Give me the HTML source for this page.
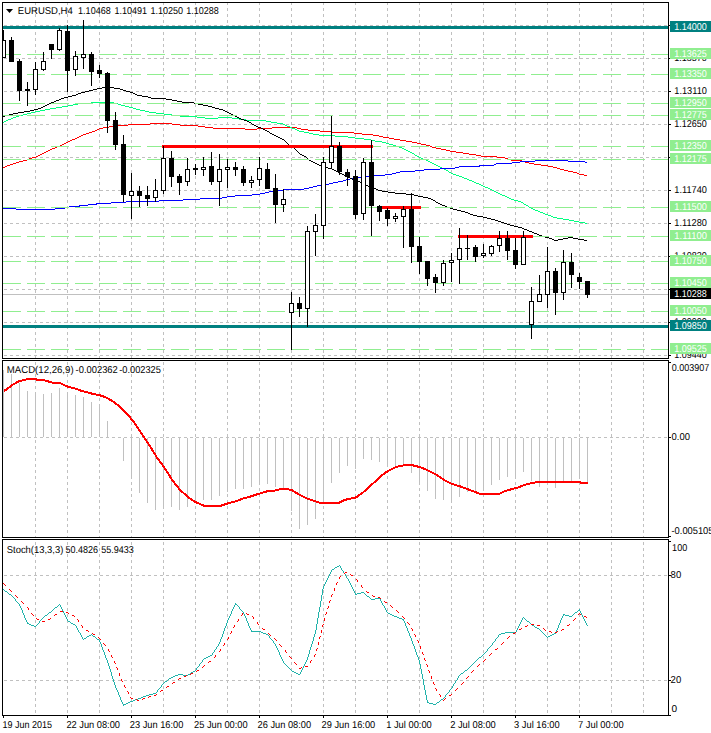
<!DOCTYPE html>
<html><head><meta charset="utf-8"><title>EURUSD,H4</title>
<style>
html,body{margin:0;padding:0;background:#fff;}
body{width:711px;height:733px;overflow:hidden;}
svg{display:block;}
text{font-family:"Liberation Sans", "DejaVu Sans", sans-serif;text-rendering:geometricPrecision;}
</style></head><body>
<svg width="711" height="733" viewBox="0 0 711 733" shape-rendering="crispEdges">
<rect x="0" y="0" width="711" height="733" fill="#ffffff"/>
<g id="grid">
<line x1="4" y1="25.5" x2="668" y2="25.5" stroke="#c0c0c0" stroke-dasharray="3 3"/>
<line x1="4" y1="58.5" x2="668" y2="58.5" stroke="#c0c0c0" stroke-dasharray="3 3"/>
<line x1="4" y1="91.5" x2="668" y2="91.5" stroke="#c0c0c0" stroke-dasharray="3 3"/>
<line x1="4" y1="124.5" x2="668" y2="124.5" stroke="#c0c0c0" stroke-dasharray="3 3"/>
<line x1="4" y1="157.5" x2="668" y2="157.5" stroke="#c0c0c0" stroke-dasharray="3 3"/>
<line x1="4" y1="190.5" x2="668" y2="190.5" stroke="#c0c0c0" stroke-dasharray="3 3"/>
<line x1="4" y1="223.5" x2="668" y2="223.5" stroke="#c0c0c0" stroke-dasharray="3 3"/>
<line x1="4" y1="256.5" x2="668" y2="256.5" stroke="#c0c0c0" stroke-dasharray="3 3"/>
<line x1="4" y1="289.5" x2="668" y2="289.5" stroke="#c0c0c0" stroke-dasharray="3 3"/>
<line x1="4" y1="322.5" x2="668" y2="322.5" stroke="#c0c0c0" stroke-dasharray="3 3"/>
<line x1="4" y1="355.5" x2="668" y2="355.5" stroke="#c0c0c0" stroke-dasharray="3 3"/>
<line x1="35.5" y1="2" x2="35.5" y2="358" stroke="#c0c0c0" stroke-dasharray="3 3"/>
<line x1="67.5" y1="2" x2="67.5" y2="358" stroke="#c0c0c0" stroke-dasharray="3 3"/>
<line x1="99.5" y1="2" x2="99.5" y2="358" stroke="#c0c0c0" stroke-dasharray="3 3"/>
<line x1="131.5" y1="2" x2="131.5" y2="358" stroke="#c0c0c0" stroke-dasharray="3 3"/>
<line x1="163.5" y1="2" x2="163.5" y2="358" stroke="#c0c0c0" stroke-dasharray="3 3"/>
<line x1="195.5" y1="2" x2="195.5" y2="358" stroke="#c0c0c0" stroke-dasharray="3 3"/>
<line x1="227.5" y1="2" x2="227.5" y2="358" stroke="#c0c0c0" stroke-dasharray="3 3"/>
<line x1="259.5" y1="2" x2="259.5" y2="358" stroke="#c0c0c0" stroke-dasharray="3 3"/>
<line x1="291.5" y1="2" x2="291.5" y2="358" stroke="#c0c0c0" stroke-dasharray="3 3"/>
<line x1="323.5" y1="2" x2="323.5" y2="358" stroke="#c0c0c0" stroke-dasharray="3 3"/>
<line x1="355.5" y1="2" x2="355.5" y2="358" stroke="#c0c0c0" stroke-dasharray="3 3"/>
<line x1="387.5" y1="2" x2="387.5" y2="358" stroke="#c0c0c0" stroke-dasharray="3 3"/>
<line x1="419.5" y1="2" x2="419.5" y2="358" stroke="#c0c0c0" stroke-dasharray="3 3"/>
<line x1="451.5" y1="2" x2="451.5" y2="358" stroke="#c0c0c0" stroke-dasharray="3 3"/>
<line x1="483.5" y1="2" x2="483.5" y2="358" stroke="#c0c0c0" stroke-dasharray="3 3"/>
<line x1="515.5" y1="2" x2="515.5" y2="358" stroke="#c0c0c0" stroke-dasharray="3 3"/>
<line x1="547.5" y1="2" x2="547.5" y2="358" stroke="#c0c0c0" stroke-dasharray="3 3"/>
<line x1="579.5" y1="2" x2="579.5" y2="358" stroke="#c0c0c0" stroke-dasharray="3 3"/>
<line x1="611.5" y1="2" x2="611.5" y2="358" stroke="#c0c0c0" stroke-dasharray="3 3"/>
<line x1="643.5" y1="2" x2="643.5" y2="358" stroke="#c0c0c0" stroke-dasharray="3 3"/>
<line x1="4" y1="437.5" x2="668" y2="437.5" stroke="#c0c0c0" stroke-dasharray="3 3"/>
<line x1="35.5" y1="362" x2="35.5" y2="537" stroke="#c0c0c0" stroke-dasharray="3 3"/>
<line x1="67.5" y1="362" x2="67.5" y2="537" stroke="#c0c0c0" stroke-dasharray="3 3"/>
<line x1="99.5" y1="362" x2="99.5" y2="537" stroke="#c0c0c0" stroke-dasharray="3 3"/>
<line x1="131.5" y1="362" x2="131.5" y2="537" stroke="#c0c0c0" stroke-dasharray="3 3"/>
<line x1="163.5" y1="362" x2="163.5" y2="537" stroke="#c0c0c0" stroke-dasharray="3 3"/>
<line x1="195.5" y1="362" x2="195.5" y2="537" stroke="#c0c0c0" stroke-dasharray="3 3"/>
<line x1="227.5" y1="362" x2="227.5" y2="537" stroke="#c0c0c0" stroke-dasharray="3 3"/>
<line x1="259.5" y1="362" x2="259.5" y2="537" stroke="#c0c0c0" stroke-dasharray="3 3"/>
<line x1="291.5" y1="362" x2="291.5" y2="537" stroke="#c0c0c0" stroke-dasharray="3 3"/>
<line x1="323.5" y1="362" x2="323.5" y2="537" stroke="#c0c0c0" stroke-dasharray="3 3"/>
<line x1="355.5" y1="362" x2="355.5" y2="537" stroke="#c0c0c0" stroke-dasharray="3 3"/>
<line x1="387.5" y1="362" x2="387.5" y2="537" stroke="#c0c0c0" stroke-dasharray="3 3"/>
<line x1="419.5" y1="362" x2="419.5" y2="537" stroke="#c0c0c0" stroke-dasharray="3 3"/>
<line x1="451.5" y1="362" x2="451.5" y2="537" stroke="#c0c0c0" stroke-dasharray="3 3"/>
<line x1="483.5" y1="362" x2="483.5" y2="537" stroke="#c0c0c0" stroke-dasharray="3 3"/>
<line x1="515.5" y1="362" x2="515.5" y2="537" stroke="#c0c0c0" stroke-dasharray="3 3"/>
<line x1="547.5" y1="362" x2="547.5" y2="537" stroke="#c0c0c0" stroke-dasharray="3 3"/>
<line x1="579.5" y1="362" x2="579.5" y2="537" stroke="#c0c0c0" stroke-dasharray="3 3"/>
<line x1="611.5" y1="362" x2="611.5" y2="537" stroke="#c0c0c0" stroke-dasharray="3 3"/>
<line x1="643.5" y1="362" x2="643.5" y2="537" stroke="#c0c0c0" stroke-dasharray="3 3"/>
<line x1="4" y1="575.5" x2="668" y2="575.5" stroke="#c0c0c0" stroke-dasharray="3 3"/>
<line x1="4" y1="680.5" x2="668" y2="680.5" stroke="#c0c0c0" stroke-dasharray="3 3"/>
<line x1="35.5" y1="542" x2="35.5" y2="715" stroke="#c0c0c0" stroke-dasharray="3 3"/>
<line x1="67.5" y1="542" x2="67.5" y2="715" stroke="#c0c0c0" stroke-dasharray="3 3"/>
<line x1="99.5" y1="542" x2="99.5" y2="715" stroke="#c0c0c0" stroke-dasharray="3 3"/>
<line x1="131.5" y1="542" x2="131.5" y2="715" stroke="#c0c0c0" stroke-dasharray="3 3"/>
<line x1="163.5" y1="542" x2="163.5" y2="715" stroke="#c0c0c0" stroke-dasharray="3 3"/>
<line x1="195.5" y1="542" x2="195.5" y2="715" stroke="#c0c0c0" stroke-dasharray="3 3"/>
<line x1="227.5" y1="542" x2="227.5" y2="715" stroke="#c0c0c0" stroke-dasharray="3 3"/>
<line x1="259.5" y1="542" x2="259.5" y2="715" stroke="#c0c0c0" stroke-dasharray="3 3"/>
<line x1="291.5" y1="542" x2="291.5" y2="715" stroke="#c0c0c0" stroke-dasharray="3 3"/>
<line x1="323.5" y1="542" x2="323.5" y2="715" stroke="#c0c0c0" stroke-dasharray="3 3"/>
<line x1="355.5" y1="542" x2="355.5" y2="715" stroke="#c0c0c0" stroke-dasharray="3 3"/>
<line x1="387.5" y1="542" x2="387.5" y2="715" stroke="#c0c0c0" stroke-dasharray="3 3"/>
<line x1="419.5" y1="542" x2="419.5" y2="715" stroke="#c0c0c0" stroke-dasharray="3 3"/>
<line x1="451.5" y1="542" x2="451.5" y2="715" stroke="#c0c0c0" stroke-dasharray="3 3"/>
<line x1="483.5" y1="542" x2="483.5" y2="715" stroke="#c0c0c0" stroke-dasharray="3 3"/>
<line x1="515.5" y1="542" x2="515.5" y2="715" stroke="#c0c0c0" stroke-dasharray="3 3"/>
<line x1="547.5" y1="542" x2="547.5" y2="715" stroke="#c0c0c0" stroke-dasharray="3 3"/>
<line x1="579.5" y1="542" x2="579.5" y2="715" stroke="#c0c0c0" stroke-dasharray="3 3"/>
<line x1="611.5" y1="542" x2="611.5" y2="715" stroke="#c0c0c0" stroke-dasharray="3 3"/>
<line x1="643.5" y1="542" x2="643.5" y2="715" stroke="#c0c0c0" stroke-dasharray="3 3"/>
</g>
<g id="ma">
<path d="M150 123h22v1h-22zM128 124h22v1h-22zM172 124h8v1h-8zM115 125h13v1h-13zM180 125h18v1h-18zM109 126h6v1h-6zM198 126h7v1h-7zM103 127h6v1h-6zM205 127h8v1h-8zM272 127h25v1h-25zM99 128h4v1h-4zM213 128h32v1h-32zM257 128h15v1h-15zM297 128h4v1h-4zM97 129h2v1h-2zM245 129h12v1h-12zM301 129h7v1h-7zM95 130h2v1h-2zM308 130h12v1h-12zM92 131h3v1h-3zM320 131h12v1h-12zM89 132h3v1h-3zM332 132h22v1h-22zM86 133h3v1h-3zM354 133h8v1h-8zM83 134h3v1h-3zM362 134h11v1h-11zM81 135h2v1h-2zM373 135h6v1h-6zM79 136h2v1h-2zM379 136h4v1h-4zM77 137h2v1h-2zM383 137h6v1h-6zM75 138h2v1h-2zM389 138h5v1h-5zM72 139h3v1h-3zM394 139h6v1h-6zM70 140h2v1h-2zM400 140h6v1h-6zM68 141h2v1h-2zM406 141h6v1h-6zM66 142h2v1h-2zM412 142h5v1h-5zM64 143h2v1h-2zM417 143h4v1h-4zM62 144h2v1h-2zM421 144h5v1h-5zM60 145h2v1h-2zM426 145h4v1h-4zM57 146h3v1h-3zM430 146h2v1h-2zM55 147h2v1h-2zM432 147h4v1h-4zM52 148h3v1h-3zM436 148h5v1h-5zM50 149h2v1h-2zM441 149h5v1h-5zM48 150h2v1h-2zM446 150h4v1h-4zM46 151h2v1h-2zM450 151h6v1h-6zM44 152h2v1h-2zM456 152h7v1h-7zM42 153h2v1h-2zM463 153h6v1h-6zM40 154h2v1h-2zM469 154h7v1h-7zM38 155h2v1h-2zM476 155h5v1h-5zM36 156h2v1h-2zM481 156h16v1h-16zM32 157h4v1h-4zM497 157h8v1h-8zM29 158h3v1h-3zM505 158h3v1h-3zM27 159h2v1h-2zM508 159h3v1h-3zM23 160h4v1h-4zM511 160h11v1h-11zM19 161h4v1h-4zM522 161h3v1h-3zM16 162h3v1h-3zM525 162h4v1h-4zM13 163h3v1h-3zM529 163h5v1h-5zM10 164h3v1h-3zM534 164h7v1h-7zM7 165h3v1h-3zM541 165h7v1h-7zM5 166h2v1h-2zM548 166h5v1h-5zM3 167h2v1h-2zM553 167h4v1h-4zM557 168h3v1h-3zM560 169h4v1h-4zM564 170h4v1h-4zM568 171h5v1h-5zM573 172h4v1h-4zM577 173h2v1h-2zM579 174h5v1h-5zM584 175h3v1h-3z" fill="#ff0000"/>
<path d="M91 102h23v1h-23zM78 103h13v1h-13zM114 103h4v1h-4zM73 104h5v1h-5zM118 104h3v1h-3zM68 105h5v1h-5zM121 105h4v1h-4zM62 106h6v1h-6zM125 106h4v1h-4zM56 107h6v1h-6zM129 107h4v1h-4zM50 108h6v1h-6zM133 108h3v1h-3zM45 109h5v1h-5zM136 109h4v1h-4zM40 110h5v1h-5zM140 110h5v1h-5zM35 111h5v1h-5zM145 111h4v1h-4zM31 112h4v1h-4zM149 112h7v1h-7zM27 113h4v1h-4zM156 113h8v1h-8zM23 114h4v1h-4zM164 114h8v1h-8zM19 115h4v1h-4zM172 115h8v1h-8zM16 116h3v1h-3zM180 116h17v1h-17zM13 117h3v1h-3zM197 117h8v1h-8zM218 117h14v1h-14zM11 118h2v1h-2zM205 118h13v1h-13zM232 118h7v1h-7zM8 119h3v1h-3zM239 119h7v1h-7zM6 120h2v1h-2zM246 120h20v1h-20zM4 121h2v1h-2zM266 121h5v1h-5zM3 122h1v1h-1zM271 122h6v1h-6zM277 123h6v1h-6zM283 124h2v1h-2zM285 125h2v1h-2zM287 126h3v1h-3zM290 127h2v1h-2zM292 128h3v1h-3zM295 129h2v1h-2zM297 130h2v1h-2zM299 131h5v1h-5zM304 132h5v1h-5zM309 133h4v1h-4zM313 134h6v1h-6zM319 135h16v1h-16zM335 136h13v1h-13zM348 137h7v1h-7zM355 138h9v1h-9zM364 139h7v1h-7zM371 140h4v1h-4zM375 141h7v1h-7zM382 142h4v1h-4zM386 143h3v1h-3zM389 144h4v1h-4zM393 145h3v1h-3zM396 146h3v1h-3zM399 147h3v1h-3zM402 148h2v1h-2zM404 149h2v1h-2zM406 150h2v1h-2zM408 151h2v1h-2zM410 152h2v1h-2zM412 153h2v1h-2zM414 154h1v1h-1zM415 155h2v1h-2zM417 156h2v1h-2zM419 157h2v1h-2zM421 158h2v1h-2zM423 159h3v1h-3zM426 160h2v1h-2zM428 161h2v1h-2zM430 162h2v1h-2zM432 163h2v1h-2zM434 164h2v1h-2zM436 165h2v1h-2zM438 166h2v1h-2zM440 167h2v1h-2zM442 168h2v1h-2zM444 169h2v1h-2zM446 170h2v1h-2zM448 171h1v1h-1zM449 172h2v1h-2zM451 173h2v1h-2zM453 174h3v1h-3zM456 175h3v1h-3zM459 176h3v1h-3zM462 177h2v1h-2zM464 178h3v1h-3zM467 179h2v1h-2zM469 180h3v1h-3zM472 181h2v1h-2zM474 182h2v1h-2zM476 183h3v1h-3zM479 184h2v1h-2zM481 185h2v1h-2zM483 186h2v1h-2zM485 187h3v1h-3zM488 188h2v1h-2zM490 189h2v1h-2zM492 190h2v1h-2zM494 191h2v1h-2zM496 192h2v1h-2zM498 193h2v1h-2zM500 194h2v1h-2zM502 195h3v1h-3zM505 196h2v1h-2zM507 197h2v1h-2zM509 198h2v1h-2zM511 199h3v1h-3zM514 200h4v1h-4zM518 201h3v1h-3zM521 202h2v1h-2zM523 203h1v1h-1zM524 204h2v1h-2zM526 205h2v1h-2zM528 206h1v1h-1zM529 207h2v1h-2zM531 208h2v1h-2zM533 209h2v1h-2zM535 210h3v1h-3zM538 211h2v1h-2zM540 212h3v1h-3zM543 213h2v1h-2zM545 214h3v1h-3zM548 215h3v1h-3zM551 216h2v1h-2zM553 217h4v1h-4zM557 218h6v1h-6zM563 219h6v1h-6zM569 220h5v1h-5zM574 221h5v1h-5zM579 222h6v1h-6zM585 223h2v1h-2z" fill="#00ff7f"/>
<path d="M535 160h33v1h-33zM520 161h15v1h-15zM568 161h17v1h-17zM512 162h8v1h-8zM585 162h2v1h-2zM496 163h16v1h-16zM494 164h2v1h-2zM479 165h15v1h-15zM459 166h21v1h-21zM455 167h4v1h-4zM440 168h15v1h-15zM424 169h16v1h-16zM415 170h9v1h-9zM400 171h15v1h-15zM396 172h4v1h-4zM392 173h4v1h-4zM385 174h7v1h-7zM374 175h11v1h-11zM365 176h9v1h-9zM357 177h8v1h-8zM350 178h7v1h-7zM346 179h4v1h-4zM343 180h3v1h-3zM338 181h5v1h-5zM333 182h5v1h-5zM329 183h4v1h-4zM324 184h5v1h-5zM317 185h7v1h-7zM313 186h4v1h-4zM309 187h4v1h-4zM304 188h5v1h-5zM283 189h21v1h-21zM276 190h7v1h-7zM269 191h7v1h-7zM265 192h4v1h-4zM260 193h5v1h-5zM252 194h8v1h-8zM235 195h17v1h-17zM227 196h8v1h-8zM222 197h5v1h-5zM200 198h22v1h-22zM183 199h17v1h-17zM159 200h24v1h-24zM126 201h33v1h-33zM111 202h15v1h-15zM96 203h15v1h-15zM88 204h9v1h-9zM79 205h9v1h-9zM69 206h11v1h-11zM65 207h4v1h-4zM3 208h13v1h-13zM55 208h10v1h-10zM16 209h39v1h-39z" fill="#0000ff"/>
<path d="M102 87h12v1h-12zM97 88h5v1h-5zM114 88h6v1h-6zM93 89h4v1h-4zM120 89h3v1h-3zM89 90h4v1h-4zM123 90h3v1h-3zM85 91h4v1h-4zM126 91h4v1h-4zM81 92h4v1h-4zM130 92h3v1h-3zM78 93h3v1h-3zM133 93h2v1h-2zM76 94h2v1h-2zM135 94h2v1h-2zM72 95h4v1h-4zM137 95h5v1h-5zM68 96h4v1h-4zM142 96h6v1h-6zM64 97h4v1h-4zM148 97h3v1h-3zM61 98h3v1h-3zM151 98h15v1h-15zM59 99h2v1h-2zM166 99h6v1h-6zM56 100h3v1h-3zM172 100h5v1h-5zM54 101h2v1h-2zM177 101h5v1h-5zM51 102h3v1h-3zM182 102h12v1h-12zM49 103h2v1h-2zM194 103h4v1h-4zM47 104h2v1h-2zM198 104h5v1h-5zM45 105h2v1h-2zM203 105h5v1h-5zM43 106h2v1h-2zM208 106h4v1h-4zM41 107h2v1h-2zM212 107h3v1h-3zM38 108h3v1h-3zM215 108h4v1h-4zM34 109h4v1h-4zM219 109h4v1h-4zM30 110h4v1h-4zM223 110h2v1h-2zM24 111h6v1h-6zM225 111h2v1h-2zM18 112h6v1h-6zM227 112h2v1h-2zM13 113h5v1h-5zM229 113h2v1h-2zM9 114h4v1h-4zM231 114h2v1h-2zM5 115h4v1h-4zM233 115h2v1h-2zM3 116h2v1h-2zM235 116h2v1h-2zM237 117h2v1h-2zM239 118h2v1h-2zM241 119h3v1h-3zM244 120h3v1h-3zM247 121h2v1h-2zM249 122h2v1h-2zM251 123h1v1h-1zM252 124h2v1h-2zM254 125h2v1h-2zM256 126h2v1h-2zM258 127h3v1h-3zM261 128h2v1h-2zM263 129h2v1h-2zM265 130h2v1h-2zM267 131h2v1h-2zM269 132h1v1h-1zM270 133h2v1h-2zM272 134h2v1h-2zM274 135h2v1h-2zM276 136h2v1h-2zM278 137h2v1h-2zM280 138h2v1h-2zM282 139h2v1h-2zM284 140h1v1h-1zM285 141h1v1h-1zM286 142h1v1h-1zM287 143h1v1h-1zM288 144h1v1h-1zM289 145h2v1h-2zM291 146h1v1h-1zM292 147h2v1h-2zM294 148h1v1h-1zM295 149h1v1h-1zM296 150h1v1h-1zM297 151h1v1h-1zM298 152h1v1h-1zM299 153h1v1h-1zM300 154h2v1h-2zM302 155h2v1h-2zM304 156h2v1h-2zM306 157h1v1h-1zM307 158h1v1h-1zM308 159h1v1h-1zM309 160h2v1h-2zM311 161h2v1h-2zM313 162h2v1h-2zM315 163h2v1h-2zM317 164h2v1h-2zM319 165h3v1h-3zM322 166h3v1h-3zM325 167h3v1h-3zM328 168h4v1h-4zM332 169h2v1h-2zM334 170h2v1h-2zM336 171h2v1h-2zM338 172h2v1h-2zM340 173h2v1h-2zM342 174h2v1h-2zM344 175h2v1h-2zM346 176h2v1h-2zM348 177h2v1h-2zM350 178h2v1h-2zM352 179h3v1h-3zM355 180h3v1h-3zM358 181h2v1h-2zM360 182h2v1h-2zM362 183h2v1h-2zM364 184h2v1h-2zM366 185h2v1h-2zM368 186h3v1h-3zM371 187h3v1h-3zM374 188h2v1h-2zM376 189h2v1h-2zM378 190h4v1h-4zM382 191h6v1h-6zM388 192h7v1h-7zM395 193h11v1h-11zM406 194h8v1h-8zM414 195h4v1h-4zM418 196h5v1h-5zM423 197h5v1h-5zM428 198h3v1h-3zM431 199h2v1h-2zM433 200h2v1h-2zM435 201h1v1h-1zM436 202h2v1h-2zM438 203h2v1h-2zM440 204h2v1h-2zM442 205h3v1h-3zM445 206h2v1h-2zM447 207h3v1h-3zM450 208h3v1h-3zM453 209h4v1h-4zM457 210h4v1h-4zM461 211h4v1h-4zM465 212h3v1h-3zM468 213h2v1h-2zM470 214h3v1h-3zM473 215h4v1h-4zM477 216h6v1h-6zM483 217h4v1h-4zM487 218h4v1h-4zM491 219h4v1h-4zM495 220h3v1h-3zM498 221h3v1h-3zM501 222h3v1h-3zM504 223h3v1h-3zM507 224h3v1h-3zM510 225h4v1h-4zM514 226h4v1h-4zM518 227h4v1h-4zM522 228h2v1h-2zM524 229h3v1h-3zM527 230h2v1h-2zM529 231h3v1h-3zM532 232h2v1h-2zM534 233h3v1h-3zM537 234h2v1h-2zM539 235h3v1h-3zM542 236h3v1h-3zM545 237h4v1h-4zM568 237h5v1h-5zM549 238h3v1h-3zM563 238h5v1h-5zM573 238h5v1h-5zM552 239h2v1h-2zM558 239h5v1h-5zM578 239h6v1h-6zM554 240h4v1h-4zM584 240h3v1h-3z" fill="#000000"/>
</g>
<g id="objs">
<line x1="3" y1="54.5" x2="668" y2="54.5" stroke="#90ee90" stroke-dasharray="18 6"/>
<line x1="3" y1="74.5" x2="668" y2="74.5" stroke="#90ee90" stroke-dasharray="18 6"/>
<line x1="3" y1="103.5" x2="668" y2="103.5" stroke="#90ee90" stroke-dasharray="18 6"/>
<line x1="3" y1="115.5" x2="668" y2="115.5" stroke="#90ee90" stroke-dasharray="18 6"/>
<line x1="3" y1="146.5" x2="668" y2="146.5" stroke="#90ee90" stroke-dasharray="18 6"/>
<line x1="3" y1="159.5" x2="668" y2="159.5" stroke="#90ee90" stroke-dasharray="18 6"/>
<line x1="3" y1="207.5" x2="668" y2="207.5" stroke="#90ee90" stroke-dasharray="18 6"/>
<line x1="3" y1="236.5" x2="668" y2="236.5" stroke="#90ee90" stroke-dasharray="18 6"/>
<line x1="3" y1="261.5" x2="668" y2="261.5" stroke="#90ee90" stroke-dasharray="18 6"/>
<line x1="3" y1="283.5" x2="668" y2="283.5" stroke="#90ee90" stroke-dasharray="18 6"/>
<line x1="3" y1="311.5" x2="668" y2="311.5" stroke="#90ee90" stroke-dasharray="18 6"/>
<line x1="3" y1="349.5" x2="668" y2="349.5" stroke="#90ee90" stroke-dasharray="18 6"/>
<rect x="3" y="294" width="665" height="1" fill="#c0c0c0"/>
<rect x="3" y="26" width="665" height="3" fill="#008080"/>
<rect x="3" y="325" width="665" height="3" fill="#008080"/>
<line x1="163.5" y1="146.5" x2="371.5" y2="146.5" stroke="#ff0000" stroke-width="3" stroke-linecap="round"/>
<line x1="379.5" y1="207.5" x2="419.5" y2="207.5" stroke="#ff0000" stroke-width="3" stroke-linecap="round"/>
<line x1="459.5" y1="236.5" x2="531.5" y2="236.5" stroke="#ff0000" stroke-width="3" stroke-linecap="round"/>
</g>
<defs><clipPath id="cp"><rect x="3" y="3" width="665" height="355"/></clipPath></defs>
<g id="candles" clip-path="url(#cp)">
<rect x="3" y="30" width="1" height="28" fill="#000000"/>
<rect x="1" y="40" width="5" height="18" fill="#000000"/>
<rect x="2" y="41" width="3" height="16" fill="#ffffff"/>
<rect x="11" y="37" width="1" height="25" fill="#000000"/>
<rect x="9" y="40" width="5" height="22" fill="#000000"/>
<rect x="19" y="59" width="1" height="42" fill="#000000"/>
<rect x="17" y="61" width="5" height="30" fill="#000000"/>
<rect x="27" y="82" width="1" height="24" fill="#000000"/>
<rect x="25" y="89" width="5" height="2" fill="#000000"/>
<rect x="35" y="62" width="1" height="33" fill="#000000"/>
<rect x="33" y="69" width="5" height="21" fill="#000000"/>
<rect x="34" y="70" width="3" height="19" fill="#ffffff"/>
<rect x="43" y="52" width="1" height="19" fill="#000000"/>
<rect x="41" y="61" width="5" height="9" fill="#000000"/>
<rect x="42" y="62" width="3" height="7" fill="#ffffff"/>
<rect x="51" y="44" width="1" height="15" fill="#000000"/>
<rect x="49" y="44" width="5" height="6" fill="#000000"/>
<rect x="59" y="28" width="1" height="23" fill="#000000"/>
<rect x="57" y="30" width="5" height="20" fill="#000000"/>
<rect x="58" y="31" width="3" height="18" fill="#ffffff"/>
<rect x="67" y="25" width="1" height="67" fill="#000000"/>
<rect x="65" y="31" width="5" height="40" fill="#000000"/>
<rect x="75" y="51" width="1" height="25" fill="#000000"/>
<rect x="73" y="56" width="5" height="14" fill="#000000"/>
<rect x="74" y="57" width="3" height="12" fill="#ffffff"/>
<rect x="83" y="20" width="1" height="49" fill="#000000"/>
<rect x="81" y="54" width="5" height="4" fill="#000000"/>
<rect x="82" y="55" width="3" height="2" fill="#ffffff"/>
<rect x="91" y="52" width="1" height="34" fill="#000000"/>
<rect x="89" y="54" width="5" height="18" fill="#000000"/>
<rect x="99" y="65" width="1" height="13" fill="#000000"/>
<rect x="97" y="70" width="5" height="4" fill="#000000"/>
<rect x="107" y="72" width="1" height="61" fill="#000000"/>
<rect x="105" y="73" width="5" height="48" fill="#000000"/>
<rect x="115" y="112" width="1" height="38" fill="#000000"/>
<rect x="113" y="120" width="5" height="25" fill="#000000"/>
<rect x="123" y="135" width="1" height="67" fill="#000000"/>
<rect x="121" y="144" width="5" height="51" fill="#000000"/>
<rect x="131" y="173" width="1" height="46" fill="#000000"/>
<rect x="129" y="191" width="5" height="5" fill="#000000"/>
<rect x="130" y="192" width="3" height="3" fill="#ffffff"/>
<rect x="139" y="186" width="1" height="21" fill="#000000"/>
<rect x="137" y="191" width="5" height="5" fill="#000000"/>
<rect x="147" y="186" width="1" height="20" fill="#000000"/>
<rect x="145" y="195" width="5" height="4" fill="#000000"/>
<rect x="155" y="179" width="1" height="23" fill="#000000"/>
<rect x="153" y="190" width="5" height="8" fill="#000000"/>
<rect x="154" y="191" width="3" height="6" fill="#ffffff"/>
<rect x="163" y="146" width="1" height="48" fill="#000000"/>
<rect x="161" y="158" width="5" height="33" fill="#000000"/>
<rect x="162" y="159" width="3" height="31" fill="#ffffff"/>
<rect x="171" y="151" width="1" height="36" fill="#000000"/>
<rect x="169" y="158" width="5" height="19" fill="#000000"/>
<rect x="179" y="174" width="1" height="21" fill="#000000"/>
<rect x="177" y="176" width="5" height="7" fill="#000000"/>
<rect x="187" y="158" width="1" height="28" fill="#000000"/>
<rect x="185" y="169" width="5" height="13" fill="#000000"/>
<rect x="186" y="170" width="3" height="11" fill="#ffffff"/>
<rect x="195" y="164" width="1" height="11" fill="#000000"/>
<rect x="193" y="168" width="5" height="2" fill="#000000"/>
<rect x="203" y="157" width="1" height="19" fill="#000000"/>
<rect x="201" y="167" width="5" height="3" fill="#000000"/>
<rect x="202" y="168" width="3" height="1" fill="#ffffff"/>
<rect x="211" y="152" width="1" height="33" fill="#000000"/>
<rect x="209" y="166" width="5" height="16" fill="#000000"/>
<rect x="219" y="154" width="1" height="52" fill="#000000"/>
<rect x="217" y="169" width="5" height="13" fill="#000000"/>
<rect x="218" y="170" width="3" height="11" fill="#ffffff"/>
<rect x="227" y="159" width="1" height="29" fill="#000000"/>
<rect x="225" y="167" width="5" height="3" fill="#000000"/>
<rect x="226" y="168" width="3" height="1" fill="#ffffff"/>
<rect x="235" y="162" width="1" height="14" fill="#000000"/>
<rect x="233" y="167" width="5" height="3" fill="#000000"/>
<rect x="243" y="166" width="1" height="20" fill="#000000"/>
<rect x="241" y="169" width="5" height="14" fill="#000000"/>
<rect x="251" y="176" width="1" height="12" fill="#000000"/>
<rect x="249" y="180" width="5" height="3" fill="#000000"/>
<rect x="250" y="181" width="3" height="1" fill="#ffffff"/>
<rect x="259" y="157" width="1" height="29" fill="#000000"/>
<rect x="257" y="168" width="5" height="12" fill="#000000"/>
<rect x="258" y="169" width="3" height="10" fill="#ffffff"/>
<rect x="267" y="163" width="1" height="26" fill="#000000"/>
<rect x="265" y="169" width="5" height="20" fill="#000000"/>
<rect x="275" y="174" width="1" height="49" fill="#000000"/>
<rect x="273" y="188" width="5" height="17" fill="#000000"/>
<rect x="283" y="189" width="1" height="23" fill="#000000"/>
<rect x="281" y="199" width="5" height="6" fill="#000000"/>
<rect x="282" y="200" width="3" height="4" fill="#ffffff"/>
<rect x="291" y="292" width="1" height="58" fill="#000000"/>
<rect x="289" y="303" width="5" height="10" fill="#000000"/>
<rect x="290" y="304" width="3" height="8" fill="#ffffff"/>
<rect x="299" y="297" width="1" height="20" fill="#000000"/>
<rect x="297" y="303" width="5" height="6" fill="#000000"/>
<rect x="307" y="226" width="1" height="101" fill="#000000"/>
<rect x="305" y="231" width="5" height="78" fill="#000000"/>
<rect x="306" y="232" width="3" height="76" fill="#ffffff"/>
<rect x="315" y="214" width="1" height="42" fill="#000000"/>
<rect x="313" y="225" width="5" height="7" fill="#000000"/>
<rect x="314" y="226" width="3" height="5" fill="#ffffff"/>
<rect x="323" y="157" width="1" height="82" fill="#000000"/>
<rect x="321" y="162" width="5" height="64" fill="#000000"/>
<rect x="322" y="163" width="3" height="62" fill="#ffffff"/>
<rect x="331" y="116" width="1" height="53" fill="#000000"/>
<rect x="329" y="146" width="5" height="17" fill="#000000"/>
<rect x="330" y="147" width="3" height="15" fill="#ffffff"/>
<rect x="339" y="142" width="1" height="33" fill="#000000"/>
<rect x="337" y="146" width="5" height="26" fill="#000000"/>
<rect x="347" y="169" width="1" height="17" fill="#000000"/>
<rect x="345" y="172" width="5" height="5" fill="#000000"/>
<rect x="355" y="170" width="1" height="49" fill="#000000"/>
<rect x="353" y="176" width="5" height="39" fill="#000000"/>
<rect x="363" y="158" width="1" height="62" fill="#000000"/>
<rect x="361" y="162" width="5" height="52" fill="#000000"/>
<rect x="362" y="163" width="3" height="50" fill="#ffffff"/>
<rect x="371" y="140" width="1" height="96" fill="#000000"/>
<rect x="369" y="162" width="5" height="44" fill="#000000"/>
<rect x="379" y="205" width="1" height="16" fill="#000000"/>
<rect x="377" y="206" width="5" height="6" fill="#000000"/>
<rect x="387" y="208" width="1" height="18" fill="#000000"/>
<rect x="385" y="210" width="5" height="9" fill="#000000"/>
<rect x="395" y="213" width="1" height="9" fill="#000000"/>
<rect x="393" y="216" width="5" height="3" fill="#000000"/>
<rect x="394" y="217" width="3" height="1" fill="#ffffff"/>
<rect x="403" y="206" width="1" height="42" fill="#000000"/>
<rect x="401" y="209" width="5" height="8" fill="#000000"/>
<rect x="402" y="210" width="3" height="6" fill="#ffffff"/>
<rect x="411" y="193" width="1" height="70" fill="#000000"/>
<rect x="409" y="209" width="5" height="38" fill="#000000"/>
<rect x="419" y="237" width="1" height="37" fill="#000000"/>
<rect x="417" y="246" width="5" height="16" fill="#000000"/>
<rect x="427" y="261" width="1" height="25" fill="#000000"/>
<rect x="425" y="261" width="5" height="18" fill="#000000"/>
<rect x="435" y="274" width="1" height="19" fill="#000000"/>
<rect x="433" y="277" width="5" height="6" fill="#000000"/>
<rect x="443" y="260" width="1" height="26" fill="#000000"/>
<rect x="441" y="263" width="5" height="20" fill="#000000"/>
<rect x="442" y="264" width="3" height="18" fill="#ffffff"/>
<rect x="451" y="253" width="1" height="29" fill="#000000"/>
<rect x="449" y="260" width="5" height="3" fill="#000000"/>
<rect x="450" y="261" width="3" height="1" fill="#ffffff"/>
<rect x="459" y="228" width="1" height="56" fill="#000000"/>
<rect x="457" y="248" width="5" height="12" fill="#000000"/>
<rect x="458" y="249" width="3" height="10" fill="#ffffff"/>
<rect x="467" y="235" width="1" height="25" fill="#000000"/>
<rect x="465" y="248" width="5" height="1" fill="#000000"/>
<rect x="475" y="245" width="1" height="17" fill="#000000"/>
<rect x="473" y="247" width="5" height="10" fill="#000000"/>
<rect x="483" y="244" width="1" height="14" fill="#000000"/>
<rect x="481" y="253" width="5" height="3" fill="#000000"/>
<rect x="482" y="254" width="3" height="1" fill="#ffffff"/>
<rect x="491" y="245" width="1" height="11" fill="#000000"/>
<rect x="489" y="246" width="5" height="8" fill="#000000"/>
<rect x="490" y="247" width="3" height="6" fill="#ffffff"/>
<rect x="499" y="231" width="1" height="21" fill="#000000"/>
<rect x="497" y="238" width="5" height="8" fill="#000000"/>
<rect x="498" y="239" width="3" height="6" fill="#ffffff"/>
<rect x="507" y="231" width="1" height="29" fill="#000000"/>
<rect x="505" y="238" width="5" height="13" fill="#000000"/>
<rect x="515" y="238" width="1" height="31" fill="#000000"/>
<rect x="513" y="250" width="5" height="15" fill="#000000"/>
<rect x="523" y="231" width="1" height="34" fill="#000000"/>
<rect x="521" y="237" width="5" height="28" fill="#000000"/>
<rect x="522" y="238" width="3" height="26" fill="#ffffff"/>
<rect x="531" y="287" width="1" height="52" fill="#000000"/>
<rect x="529" y="301" width="5" height="24" fill="#000000"/>
<rect x="530" y="302" width="3" height="22" fill="#ffffff"/>
<rect x="539" y="275" width="1" height="27" fill="#000000"/>
<rect x="537" y="294" width="5" height="8" fill="#000000"/>
<rect x="538" y="295" width="3" height="6" fill="#ffffff"/>
<rect x="547" y="247" width="1" height="61" fill="#000000"/>
<rect x="545" y="271" width="5" height="24" fill="#000000"/>
<rect x="546" y="272" width="3" height="22" fill="#ffffff"/>
<rect x="555" y="268" width="1" height="47" fill="#000000"/>
<rect x="553" y="271" width="5" height="22" fill="#000000"/>
<rect x="563" y="250" width="1" height="50" fill="#000000"/>
<rect x="561" y="262" width="5" height="31" fill="#000000"/>
<rect x="562" y="263" width="3" height="29" fill="#ffffff"/>
<rect x="571" y="253" width="1" height="35" fill="#000000"/>
<rect x="569" y="262" width="5" height="13" fill="#000000"/>
<rect x="579" y="273" width="1" height="16" fill="#000000"/>
<rect x="577" y="277" width="5" height="5" fill="#000000"/>
<rect x="587" y="281" width="1" height="17" fill="#000000"/>
<rect x="585" y="281" width="5" height="14" fill="#000000"/>
</g>
<g id="macd">
<rect x="3" y="370" width="1" height="67" fill="#c0c0c0"/>
<rect x="11" y="374" width="1" height="63" fill="#c0c0c0"/>
<rect x="19" y="383" width="1" height="54" fill="#c0c0c0"/>
<rect x="27" y="391" width="1" height="46" fill="#c0c0c0"/>
<rect x="35" y="392" width="1" height="45" fill="#c0c0c0"/>
<rect x="43" y="394" width="1" height="43" fill="#c0c0c0"/>
<rect x="51" y="393" width="1" height="44" fill="#c0c0c0"/>
<rect x="59" y="388" width="1" height="49" fill="#c0c0c0"/>
<rect x="67" y="392" width="1" height="45" fill="#c0c0c0"/>
<rect x="75" y="395" width="1" height="42" fill="#c0c0c0"/>
<rect x="83" y="397" width="1" height="40" fill="#c0c0c0"/>
<rect x="91" y="402" width="1" height="35" fill="#c0c0c0"/>
<rect x="99" y="404" width="1" height="33" fill="#c0c0c0"/>
<rect x="107" y="421" width="1" height="16" fill="#c0c0c0"/>
<rect x="123" y="438" width="1" height="23" fill="#c0c0c0"/>
<rect x="131" y="438" width="1" height="41" fill="#c0c0c0"/>
<rect x="139" y="438" width="1" height="55" fill="#c0c0c0"/>
<rect x="147" y="438" width="1" height="65" fill="#c0c0c0"/>
<rect x="155" y="438" width="1" height="72" fill="#c0c0c0"/>
<rect x="163" y="438" width="1" height="71" fill="#c0c0c0"/>
<rect x="171" y="438" width="1" height="69" fill="#c0c0c0"/>
<rect x="179" y="438" width="1" height="72" fill="#c0c0c0"/>
<rect x="187" y="438" width="1" height="69" fill="#c0c0c0"/>
<rect x="195" y="438" width="1" height="62" fill="#c0c0c0"/>
<rect x="203" y="438" width="1" height="62" fill="#c0c0c0"/>
<rect x="211" y="438" width="1" height="62" fill="#c0c0c0"/>
<rect x="219" y="438" width="1" height="58" fill="#c0c0c0"/>
<rect x="227" y="438" width="1" height="54" fill="#c0c0c0"/>
<rect x="235" y="438" width="1" height="51" fill="#c0c0c0"/>
<rect x="243" y="438" width="1" height="51" fill="#c0c0c0"/>
<rect x="251" y="438" width="1" height="49" fill="#c0c0c0"/>
<rect x="259" y="438" width="1" height="47" fill="#c0c0c0"/>
<rect x="267" y="438" width="1" height="46" fill="#c0c0c0"/>
<rect x="275" y="438" width="1" height="49" fill="#c0c0c0"/>
<rect x="283" y="438" width="1" height="50" fill="#c0c0c0"/>
<rect x="291" y="438" width="1" height="73" fill="#c0c0c0"/>
<rect x="299" y="438" width="1" height="91" fill="#c0c0c0"/>
<rect x="307" y="438" width="1" height="87" fill="#c0c0c0"/>
<rect x="315" y="438" width="1" height="81" fill="#c0c0c0"/>
<rect x="323" y="438" width="1" height="65" fill="#c0c0c0"/>
<rect x="331" y="438" width="1" height="45" fill="#c0c0c0"/>
<rect x="339" y="438" width="1" height="35" fill="#c0c0c0"/>
<rect x="347" y="438" width="1" height="28" fill="#c0c0c0"/>
<rect x="355" y="438" width="1" height="31" fill="#c0c0c0"/>
<rect x="363" y="438" width="1" height="21" fill="#c0c0c0"/>
<rect x="371" y="438" width="1" height="22" fill="#c0c0c0"/>
<rect x="379" y="438" width="1" height="24" fill="#c0c0c0"/>
<rect x="387" y="438" width="1" height="28" fill="#c0c0c0"/>
<rect x="395" y="438" width="1" height="28" fill="#c0c0c0"/>
<rect x="403" y="438" width="1" height="28" fill="#c0c0c0"/>
<rect x="411" y="438" width="1" height="35" fill="#c0c0c0"/>
<rect x="419" y="438" width="1" height="47" fill="#c0c0c0"/>
<rect x="427" y="438" width="1" height="53" fill="#c0c0c0"/>
<rect x="435" y="438" width="1" height="61" fill="#c0c0c0"/>
<rect x="443" y="438" width="1" height="62" fill="#c0c0c0"/>
<rect x="451" y="438" width="1" height="64" fill="#c0c0c0"/>
<rect x="459" y="438" width="1" height="59" fill="#c0c0c0"/>
<rect x="467" y="438" width="1" height="54" fill="#c0c0c0"/>
<rect x="475" y="438" width="1" height="53" fill="#c0c0c0"/>
<rect x="483" y="438" width="1" height="52" fill="#c0c0c0"/>
<rect x="491" y="438" width="1" height="47" fill="#c0c0c0"/>
<rect x="499" y="438" width="1" height="42" fill="#c0c0c0"/>
<rect x="507" y="438" width="1" height="39" fill="#c0c0c0"/>
<rect x="515" y="438" width="1" height="40" fill="#c0c0c0"/>
<rect x="523" y="438" width="1" height="34" fill="#c0c0c0"/>
<rect x="531" y="438" width="1" height="43" fill="#c0c0c0"/>
<rect x="539" y="438" width="1" height="49" fill="#c0c0c0"/>
<rect x="547" y="438" width="1" height="45" fill="#c0c0c0"/>
<rect x="555" y="438" width="1" height="50" fill="#c0c0c0"/>
<rect x="563" y="438" width="1" height="44" fill="#c0c0c0"/>
<rect x="571" y="438" width="1" height="43" fill="#c0c0c0"/>
<rect x="579" y="438" width="1" height="40" fill="#c0c0c0"/>
<rect x="587" y="438" width="1" height="44" fill="#c0c0c0"/>
<polyline points="3.9,391.0 7.3,388.9 11.5,385.5 15.7,383.0 19.9,380.9 24.1,380.0 28.3,378.8 35.9,378.8 36.8,379.8 43.5,380.0 47.8,381.3 52.0,382.5 59.7,383.0 63.9,385.0 68.2,386.8 72.4,387.8 76.6,388.9 80.8,390.6 85.0,391.9 89.3,392.9 93.5,394.0 97.7,394.8 101.9,395.9 106.1,397.6 110.5,399.9 114.9,402.9 120.3,407.0 124.7,411.4 130.1,417.4 135.6,424.5 141.0,432.6 146.5,440.8 152.0,449.5 157.4,458.3 162.9,465.4 168.3,473.5 171.5,479.2 179.9,489.8 186.9,496.1 190.5,498.9 196.1,502.4 204.6,506.0 220.0,506.0 227.8,503.4 236.9,501.0 242.5,498.6 251.0,496.4 258.0,494.0 266.5,491.5 274.9,490.5 281.9,488.8 289.0,489.5 291.1,489.8 299.5,494.7 308.0,498.9 316.5,501.7 320.7,502.9 338.9,502.9 344.5,500.0 350.2,498.6 355.8,497.5 362.9,492.6 369.9,486.3 376.9,479.9 380.5,476.3 387.5,471.3 396.0,467.1 401.6,465.7 407.2,464.7 412.8,465.3 419.9,467.1 426.9,469.9 436.8,474.9 443.8,479.8 452.2,484.0 459.3,486.1 467.7,489.2 476.1,492.4 479.9,493.8 499.2,493.8 503.6,491.7 510.7,489.4 517.7,487.7 523.0,485.4 531.8,482.9 540.5,481.9 579.2,481.9 581.0,482.8 588.0,482.8" fill="none" stroke="#ff0000" stroke-width="2" stroke-linejoin="round"/>
</g>
<g id="stoch">
<path d="M339 565h1v1h-1zM337 566h2v1h-2zM340 566h1v1h-1zM335 567h2v1h-2zM340 567h1v1h-1zM334 568h1v1h-1zM341 568h1v1h-1zM332 569h2v1h-2zM341 569h1v1h-1zM331 570h1v1h-1zM342 570h1v1h-1zM331 571h1v1h-1zM343 571h1v1h-1zM330 572h1v1h-1zM343 572h1v1h-1zM330 573h1v1h-1zM344 573h1v1h-1zM329 574h1v1h-1zM345 574h1v1h-1zM329 575h1v1h-1zM345 575h1v1h-1zM328 576h1v1h-1zM346 576h1v1h-1zM328 577h1v1h-1zM346 577h1v1h-1zM327 578h1v1h-1zM347 578h1v1h-1zM327 579h1v1h-1zM348 579h1v1h-1zM326 580h1v1h-1zM348 580h1v1h-1zM326 581h1v1h-1zM349 581h1v1h-1zM325 582h1v1h-1zM349 582h1v1h-1zM325 583h1v1h-1zM350 583h1v1h-1zM324 584h1v1h-1zM350 584h1v1h-1zM324 585h1v1h-1zM351 585h1v1h-1zM323 586h1v1h-1zM351 586h1v1h-1zM323 587h1v1h-1zM352 587h1v1h-1zM323 588h1v1h-1zM352 588h1v1h-1zM3 589h1v1h-1zM322 589h1v1h-1zM353 589h1v1h-1zM4 590h1v1h-1zM322 590h1v1h-1zM353 590h1v1h-1zM5 591h2v1h-2zM322 591h1v1h-1zM354 591h1v1h-1zM7 592h1v1h-1zM322 592h1v1h-1zM354 592h1v1h-1zM361 592h3v1h-3zM8 593h1v1h-1zM322 593h1v1h-1zM355 593h1v1h-1zM357 593h4v1h-4zM364 593h1v1h-1zM9 594h2v1h-2zM322 594h1v1h-1zM355 594h2v1h-2zM365 594h1v1h-1zM11 595h1v1h-1zM321 595h1v1h-1zM366 595h1v1h-1zM12 596h1v1h-1zM321 596h1v1h-1zM367 596h2v1h-2zM13 597h1v1h-1zM321 597h1v1h-1zM369 597h1v1h-1zM14 598h1v1h-1zM321 598h1v1h-1zM370 598h1v1h-1zM375 598h5v1h-5zM15 599h1v1h-1zM321 599h1v1h-1zM371 599h4v1h-4zM380 599h1v1h-1zM15 600h1v1h-1zM321 600h1v1h-1zM380 600h1v1h-1zM16 601h1v1h-1zM320 601h1v1h-1zM381 601h1v1h-1zM17 602h1v1h-1zM320 602h1v1h-1zM381 602h1v1h-1zM18 603h1v1h-1zM235 603h1v1h-1zM320 603h1v1h-1zM382 603h1v1h-1zM19 604h1v1h-1zM59 604h1v1h-1zM235 604h2v1h-2zM320 604h1v1h-1zM382 604h1v1h-1zM19 605h1v1h-1zM58 605h1v1h-1zM60 605h1v1h-1zM234 605h1v1h-1zM237 605h1v1h-1zM320 605h1v1h-1zM383 605h1v1h-1zM20 606h1v1h-1zM57 606h1v1h-1zM60 606h1v1h-1zM234 606h1v1h-1zM238 606h1v1h-1zM320 606h1v1h-1zM384 606h1v1h-1zM20 607h1v1h-1zM55 607h2v1h-2zM61 607h1v1h-1zM233 607h1v1h-1zM239 607h1v1h-1zM319 607h1v1h-1zM384 607h1v1h-1zM21 608h1v1h-1zM54 608h1v1h-1zM61 608h1v1h-1zM233 608h1v1h-1zM239 608h1v1h-1zM319 608h1v1h-1zM385 608h1v1h-1zM21 609h1v1h-1zM53 609h1v1h-1zM62 609h1v1h-1zM232 609h1v1h-1zM240 609h1v1h-1zM319 609h1v1h-1zM385 609h1v1h-1zM579 609h1v1h-1zM22 610h1v1h-1zM52 610h1v1h-1zM62 610h1v1h-1zM232 610h1v1h-1zM241 610h1v1h-1zM319 610h1v1h-1zM386 610h1v1h-1zM578 610h2v1h-2zM22 611h1v1h-1zM51 611h1v1h-1zM63 611h1v1h-1zM231 611h1v1h-1zM242 611h1v1h-1zM319 611h1v1h-1zM386 611h1v1h-1zM577 611h1v1h-1zM580 611h1v1h-1zM22 612h1v1h-1zM49 612h2v1h-2zM63 612h1v1h-1zM231 612h1v1h-1zM243 612h1v1h-1zM318 612h1v1h-1zM387 612h1v1h-1zM575 612h2v1h-2zM580 612h1v1h-1zM23 613h1v1h-1zM48 613h1v1h-1zM64 613h1v1h-1zM231 613h1v1h-1zM243 613h1v1h-1zM318 613h1v1h-1zM388 613h2v1h-2zM574 613h1v1h-1zM581 613h1v1h-1zM23 614h1v1h-1zM47 614h1v1h-1zM64 614h1v1h-1zM230 614h1v1h-1zM244 614h1v1h-1zM318 614h1v1h-1zM390 614h2v1h-2zM563 614h2v1h-2zM573 614h1v1h-1zM581 614h1v1h-1zM24 615h1v1h-1zM45 615h2v1h-2zM65 615h1v1h-1zM230 615h1v1h-1zM244 615h1v1h-1zM318 615h1v1h-1zM392 615h2v1h-2zM563 615h1v1h-1zM565 615h4v1h-4zM572 615h1v1h-1zM582 615h1v1h-1zM24 616h1v1h-1zM44 616h1v1h-1zM65 616h1v1h-1zM229 616h1v1h-1zM245 616h1v1h-1zM318 616h1v1h-1zM394 616h3v1h-3zM562 616h1v1h-1zM569 616h3v1h-3zM582 616h1v1h-1zM24 617h1v1h-1zM43 617h1v1h-1zM66 617h1v1h-1zM229 617h1v1h-1zM245 617h1v1h-1zM318 617h1v1h-1zM397 617h2v1h-2zM523 617h1v1h-1zM562 617h1v1h-1zM583 617h1v1h-1zM25 618h1v1h-1zM42 618h1v1h-1zM66 618h1v1h-1zM228 618h1v1h-1zM246 618h1v1h-1zM317 618h1v1h-1zM399 618h3v1h-3zM522 618h1v1h-1zM524 618h1v1h-1zM561 618h1v1h-1zM583 618h1v1h-1zM25 619h1v1h-1zM41 619h1v1h-1zM67 619h1v1h-1zM228 619h1v1h-1zM246 619h1v1h-1zM317 619h1v1h-1zM402 619h2v1h-2zM522 619h1v1h-1zM525 619h1v1h-1zM561 619h1v1h-1zM584 619h1v1h-1zM26 620h1v1h-1zM40 620h1v1h-1zM67 620h1v1h-1zM227 620h1v1h-1zM246 620h1v1h-1zM317 620h1v1h-1zM403 620h1v1h-1zM521 620h1v1h-1zM526 620h1v1h-1zM560 620h1v1h-1zM584 620h1v1h-1zM26 621h1v1h-1zM39 621h1v1h-1zM68 621h2v1h-2zM227 621h1v1h-1zM247 621h1v1h-1zM317 621h1v1h-1zM404 621h1v1h-1zM521 621h1v1h-1zM527 621h2v1h-2zM560 621h1v1h-1zM585 621h1v1h-1zM27 622h1v1h-1zM39 622h1v1h-1zM70 622h1v1h-1zM227 622h1v1h-1zM247 622h1v1h-1zM317 622h1v1h-1zM404 622h1v1h-1zM520 622h1v1h-1zM529 622h1v1h-1zM560 622h1v1h-1zM585 622h1v1h-1zM27 623h2v1h-2zM38 623h1v1h-1zM71 623h2v1h-2zM226 623h1v1h-1zM248 623h1v1h-1zM317 623h1v1h-1zM405 623h1v1h-1zM520 623h1v1h-1zM530 623h1v1h-1zM559 623h1v1h-1zM586 623h1v1h-1zM29 624h2v1h-2zM37 624h1v1h-1zM73 624h2v1h-2zM226 624h1v1h-1zM248 624h1v1h-1zM316 624h1v1h-1zM405 624h1v1h-1zM519 624h1v1h-1zM531 624h1v1h-1zM559 624h1v1h-1zM586 624h1v1h-1zM31 625h3v1h-3zM36 625h1v1h-1zM75 625h1v1h-1zM226 625h1v1h-1zM248 625h1v1h-1zM316 625h1v1h-1zM405 625h1v1h-1zM519 625h1v1h-1zM532 625h2v1h-2zM558 625h1v1h-1zM587 625h1v1h-1zM34 626h2v1h-2zM76 626h1v1h-1zM225 626h1v1h-1zM249 626h1v1h-1zM316 626h1v1h-1zM406 626h1v1h-1zM518 626h1v1h-1zM534 626h1v1h-1zM558 626h1v1h-1zM76 627h1v1h-1zM225 627h1v1h-1zM249 627h1v1h-1zM316 627h1v1h-1zM406 627h1v1h-1zM518 627h1v1h-1zM535 627h2v1h-2zM558 627h1v1h-1zM77 628h1v1h-1zM224 628h1v1h-1zM250 628h1v1h-1zM316 628h1v1h-1zM407 628h1v1h-1zM517 628h1v1h-1zM537 628h2v1h-2zM557 628h1v1h-1zM77 629h1v1h-1zM224 629h1v1h-1zM250 629h1v1h-1zM316 629h1v1h-1zM407 629h1v1h-1zM517 629h1v1h-1zM539 629h1v1h-1zM557 629h1v1h-1zM78 630h1v1h-1zM224 630h1v1h-1zM251 630h1v1h-1zM315 630h1v1h-1zM407 630h1v1h-1zM516 630h1v1h-1zM540 630h1v1h-1zM556 630h1v1h-1zM78 631h1v1h-1zM223 631h1v1h-1zM251 631h10v1h-10zM315 631h1v1h-1zM408 631h1v1h-1zM516 631h1v1h-1zM541 631h1v1h-1zM556 631h1v1h-1zM79 632h1v1h-1zM223 632h1v1h-1zM261 632h2v1h-2zM315 632h1v1h-1zM408 632h1v1h-1zM505 632h11v1h-11zM542 632h1v1h-1zM555 632h1v1h-1zM80 633h1v1h-1zM223 633h1v1h-1zM263 633h3v1h-3zM315 633h1v1h-1zM409 633h1v1h-1zM501 633h4v1h-4zM543 633h1v1h-1zM554 633h2v1h-2zM80 634h1v1h-1zM91 634h1v1h-1zM222 634h1v1h-1zM266 634h2v1h-2zM314 634h1v1h-1zM409 634h1v1h-1zM499 634h2v1h-2zM544 634h1v1h-1zM552 634h2v1h-2zM81 635h1v1h-1zM89 635h2v1h-2zM92 635h1v1h-1zM222 635h1v1h-1zM268 635h1v1h-1zM314 635h1v1h-1zM409 635h1v1h-1zM498 635h1v1h-1zM545 635h1v1h-1zM550 635h2v1h-2zM81 636h1v1h-1zM87 636h2v1h-2zM93 636h2v1h-2zM222 636h1v1h-1zM269 636h1v1h-1zM314 636h1v1h-1zM410 636h1v1h-1zM498 636h1v1h-1zM546 636h1v1h-1zM548 636h2v1h-2zM82 637h1v1h-1zM86 637h1v1h-1zM95 637h1v1h-1zM221 637h1v1h-1zM269 637h1v1h-1zM313 637h1v1h-1zM410 637h1v1h-1zM497 637h1v1h-1zM547 637h1v1h-1zM82 638h1v1h-1zM84 638h2v1h-2zM96 638h1v1h-1zM221 638h1v1h-1zM270 638h1v1h-1zM313 638h1v1h-1zM411 638h1v1h-1zM496 638h1v1h-1zM83 639h1v1h-1zM97 639h2v1h-2zM220 639h1v1h-1zM271 639h1v1h-1zM313 639h1v1h-1zM411 639h1v1h-1zM495 639h1v1h-1zM99 640h1v1h-1zM220 640h1v1h-1zM272 640h1v1h-1zM313 640h1v1h-1zM411 640h1v1h-1zM495 640h1v1h-1zM99 641h1v1h-1zM220 641h1v1h-1zM273 641h1v1h-1zM312 641h1v1h-1zM412 641h1v1h-1zM494 641h1v1h-1zM100 642h1v1h-1zM219 642h1v1h-1zM273 642h1v1h-1zM312 642h1v1h-1zM412 642h1v1h-1zM493 642h1v1h-1zM100 643h1v1h-1zM219 643h1v1h-1zM274 643h1v1h-1zM312 643h1v1h-1zM412 643h1v1h-1zM492 643h1v1h-1zM101 644h1v1h-1zM218 644h1v1h-1zM275 644h1v1h-1zM311 644h1v1h-1zM413 644h1v1h-1zM492 644h1v1h-1zM101 645h1v1h-1zM218 645h1v1h-1zM275 645h1v1h-1zM311 645h1v1h-1zM413 645h1v1h-1zM491 645h1v1h-1zM101 646h1v1h-1zM217 646h1v1h-1zM276 646h1v1h-1zM311 646h1v1h-1zM414 646h1v1h-1zM490 646h1v1h-1zM102 647h1v1h-1zM216 647h1v1h-1zM276 647h1v1h-1zM310 647h1v1h-1zM414 647h1v1h-1zM489 647h1v1h-1zM102 648h1v1h-1zM216 648h1v1h-1zM277 648h1v1h-1zM310 648h1v1h-1zM414 648h1v1h-1zM488 648h1v1h-1zM102 649h1v1h-1zM215 649h1v1h-1zM277 649h1v1h-1zM310 649h1v1h-1zM415 649h1v1h-1zM487 649h1v1h-1zM103 650h1v1h-1zM214 650h1v1h-1zM278 650h1v1h-1zM309 650h1v1h-1zM415 650h1v1h-1zM487 650h1v1h-1zM103 651h1v1h-1zM214 651h1v1h-1zM278 651h1v1h-1zM309 651h1v1h-1zM415 651h1v1h-1zM486 651h1v1h-1zM104 652h1v1h-1zM213 652h1v1h-1zM279 652h1v1h-1zM309 652h1v1h-1zM416 652h1v1h-1zM485 652h1v1h-1zM104 653h1v1h-1zM212 653h1v1h-1zM279 653h1v1h-1zM309 653h1v1h-1zM416 653h1v1h-1zM484 653h1v1h-1zM104 654h1v1h-1zM212 654h1v1h-1zM279 654h1v1h-1zM308 654h1v1h-1zM416 654h1v1h-1zM483 654h1v1h-1zM105 655h1v1h-1zM210 655h2v1h-2zM280 655h1v1h-1zM308 655h1v1h-1zM417 655h1v1h-1zM482 655h1v1h-1zM105 656h1v1h-1zM208 656h2v1h-2zM280 656h1v1h-1zM308 656h1v1h-1zM417 656h1v1h-1zM481 656h1v1h-1zM105 657h1v1h-1zM206 657h2v1h-2zM281 657h1v1h-1zM307 657h1v1h-1zM418 657h1v1h-1zM479 657h2v1h-2zM106 658h1v1h-1zM204 658h2v1h-2zM281 658h1v1h-1zM307 658h1v1h-1zM418 658h1v1h-1zM478 658h1v1h-1zM106 659h1v1h-1zM203 659h1v1h-1zM282 659h1v1h-1zM307 659h1v1h-1zM418 659h1v1h-1zM477 659h1v1h-1zM107 660h1v1h-1zM202 660h1v1h-1zM282 660h1v1h-1zM306 660h1v1h-1zM419 660h1v1h-1zM476 660h1v1h-1zM107 661h1v1h-1zM202 661h1v1h-1zM283 661h1v1h-1zM306 661h1v1h-1zM419 661h1v1h-1zM475 661h1v1h-1zM107 662h1v1h-1zM201 662h1v1h-1zM283 662h1v1h-1zM305 662h1v1h-1zM419 662h1v1h-1zM474 662h1v1h-1zM108 663h1v1h-1zM200 663h1v1h-1zM284 663h1v1h-1zM305 663h1v1h-1zM419 663h1v1h-1zM473 663h1v1h-1zM108 664h1v1h-1zM199 664h1v1h-1zM285 664h1v1h-1zM304 664h1v1h-1zM420 664h1v1h-1zM472 664h1v1h-1zM108 665h1v1h-1zM199 665h1v1h-1zM286 665h1v1h-1zM304 665h1v1h-1zM420 665h1v1h-1zM471 665h1v1h-1zM109 666h1v1h-1zM198 666h1v1h-1zM287 666h1v1h-1zM303 666h1v1h-1zM420 666h1v1h-1zM470 666h1v1h-1zM109 667h1v1h-1zM197 667h1v1h-1zM288 667h1v1h-1zM303 667h1v1h-1zM420 667h1v1h-1zM469 667h1v1h-1zM109 668h1v1h-1zM196 668h1v1h-1zM289 668h1v1h-1zM302 668h1v1h-1zM420 668h1v1h-1zM468 668h1v1h-1zM110 669h1v1h-1zM196 669h1v1h-1zM290 669h1v1h-1zM302 669h1v1h-1zM421 669h1v1h-1zM467 669h1v1h-1zM110 670h1v1h-1zM195 670h1v1h-1zM291 670h1v1h-1zM301 670h1v1h-1zM421 670h1v1h-1zM465 670h2v1h-2zM110 671h1v1h-1zM193 671h2v1h-2zM292 671h2v1h-2zM301 671h1v1h-1zM421 671h1v1h-1zM464 671h1v1h-1zM111 672h1v1h-1zM191 672h2v1h-2zM294 672h2v1h-2zM300 672h1v1h-1zM421 672h1v1h-1zM463 672h1v1h-1zM111 673h1v1h-1zM190 673h1v1h-1zM296 673h2v1h-2zM300 673h1v1h-1zM421 673h1v1h-1zM461 673h2v1h-2zM111 674h1v1h-1zM178 674h5v1h-5zM188 674h2v1h-2zM298 674h2v1h-2zM422 674h1v1h-1zM460 674h1v1h-1zM111 675h1v1h-1zM175 675h3v1h-3zM183 675h5v1h-5zM422 675h1v1h-1zM459 675h1v1h-1zM112 676h1v1h-1zM173 676h2v1h-2zM422 676h1v1h-1zM458 676h1v1h-1zM112 677h1v1h-1zM171 677h2v1h-2zM422 677h1v1h-1zM458 677h1v1h-1zM112 678h1v1h-1zM169 678h2v1h-2zM422 678h1v1h-1zM457 678h1v1h-1zM113 679h1v1h-1zM168 679h1v1h-1zM423 679h1v1h-1zM457 679h1v1h-1zM113 680h1v1h-1zM167 680h1v1h-1zM423 680h1v1h-1zM456 680h1v1h-1zM113 681h1v1h-1zM165 681h2v1h-2zM423 681h1v1h-1zM455 681h1v1h-1zM114 682h1v1h-1zM164 682h1v1h-1zM423 682h1v1h-1zM455 682h1v1h-1zM114 683h1v1h-1zM163 683h1v1h-1zM423 683h1v1h-1zM454 683h1v1h-1zM114 684h1v1h-1zM162 684h1v1h-1zM423 684h1v1h-1zM453 684h1v1h-1zM115 685h1v1h-1zM161 685h1v1h-1zM424 685h1v1h-1zM453 685h1v1h-1zM115 686h1v1h-1zM161 686h1v1h-1zM424 686h1v1h-1zM452 686h1v1h-1zM115 687h1v1h-1zM160 687h1v1h-1zM424 687h1v1h-1zM452 687h1v1h-1zM116 688h1v1h-1zM159 688h1v1h-1zM424 688h1v1h-1zM451 688h1v1h-1zM116 689h1v1h-1zM158 689h1v1h-1zM424 689h1v1h-1zM450 689h1v1h-1zM117 690h1v1h-1zM157 690h1v1h-1zM425 690h1v1h-1zM449 690h1v1h-1zM117 691h1v1h-1zM157 691h1v1h-1zM425 691h1v1h-1zM449 691h1v1h-1zM118 692h1v1h-1zM156 692h1v1h-1zM425 692h1v1h-1zM448 692h1v1h-1zM118 693h1v1h-1zM153 693h3v1h-3zM425 693h1v1h-1zM447 693h1v1h-1zM118 694h1v1h-1zM149 694h4v1h-4zM425 694h1v1h-1zM446 694h1v1h-1zM119 695h1v1h-1zM146 695h3v1h-3zM426 695h1v1h-1zM445 695h1v1h-1zM119 696h1v1h-1zM143 696h3v1h-3zM426 696h1v1h-1zM445 696h1v1h-1zM120 697h1v1h-1zM141 697h2v1h-2zM426 697h1v1h-1zM444 697h1v1h-1zM120 698h1v1h-1zM138 698h3v1h-3zM426 698h1v1h-1zM443 698h1v1h-1zM120 699h1v1h-1zM135 699h3v1h-3zM426 699h1v1h-1zM441 699h2v1h-2zM121 700h1v1h-1zM133 700h2v1h-2zM427 700h1v1h-1zM440 700h1v1h-1zM121 701h1v1h-1zM130 701h3v1h-3zM427 701h1v1h-1zM439 701h1v1h-1zM122 702h1v1h-1zM128 702h2v1h-2zM427 702h2v1h-2zM437 702h2v1h-2zM122 703h1v1h-1zM126 703h2v1h-2zM429 703h4v1h-4zM436 703h1v1h-1zM123 704h3v1h-3zM433 704h3v1h-3zM123 705h1v1h-1z" fill="#20b2aa"/>
<path d="M345 572h2v1h-2zM344 573h1v1h-1zM350 574h1v1h-1zM351 575h2v1h-2zM340 576h1v1h-1zM339 577h1v1h-1zM339 578h1v1h-1zM356 579h1v1h-1zM357 580h1v1h-1zM357 581h1v1h-1zM337 582h1v1h-1zM3 583h1v1h-1zM336 583h1v1h-1zM4 584h1v1h-1zM336 584h1v1h-1zM5 585h1v1h-1zM361 585h1v1h-1zM361 586h1v1h-1zM362 587h1v1h-1zM334 588h1v1h-1zM9 589h1v1h-1zM334 589h1v1h-1zM10 590h1v1h-1zM334 590h1v1h-1zM11 591h1v1h-1zM366 591h1v1h-1zM367 592h2v1h-2zM332 594h1v1h-1zM15 595h1v1h-1zM331 595h1v1h-1zM372 595h1v1h-1zM16 596h1v1h-1zM331 596h1v1h-1zM373 596h2v1h-2zM17 597h1v1h-1zM378 597h2v1h-2zM380 598h1v1h-1zM330 600h1v1h-1zM21 601h1v1h-1zM329 601h1v1h-1zM384 601h1v1h-1zM22 602h1v1h-1zM329 602h1v1h-1zM385 602h2v1h-2zM23 603h1v1h-1zM390 605h1v1h-1zM328 606h1v1h-1zM391 606h1v1h-1zM27 607h1v1h-1zM328 607h1v1h-1zM392 607h1v1h-1zM28 608h1v1h-1zM327 608h1v1h-1zM28 609h1v1h-1zM396 610h1v1h-1zM60 611h3v1h-3zM397 611h1v1h-1zM66 612h2v1h-2zM326 612h1v1h-1zM398 612h1v1h-1zM31 613h1v1h-1zM68 613h1v1h-1zM242 613h1v1h-1zM246 613h1v1h-1zM326 613h1v1h-1zM579 613h1v1h-1zM32 614h1v1h-1zM55 614h2v1h-2zM242 614h1v1h-1zM247 614h2v1h-2zM325 614h1v1h-1zM578 614h1v1h-1zM580 614h1v1h-1zM33 615h1v1h-1zM54 615h1v1h-1zM72 615h2v1h-2zM241 615h1v1h-1zM74 616h1v1h-1zM252 616h1v1h-1zM402 616h1v1h-1zM584 616h2v1h-2zM253 617h1v1h-1zM403 617h1v1h-1zM586 617h1v1h-1zM36 618h1v1h-1zM50 618h1v1h-1zM253 618h1v1h-1zM324 618h1v1h-1zM404 618h1v1h-1zM575 618h1v1h-1zM37 619h2v1h-2zM48 619h2v1h-2zM77 619h1v1h-1zM238 619h1v1h-1zM324 619h1v1h-1zM574 619h1v1h-1zM78 620h1v1h-1zM238 620h1v1h-1zM324 620h1v1h-1zM573 620h1v1h-1zM42 621h3v1h-3zM78 621h1v1h-1zM237 621h1v1h-1zM257 622h1v1h-1zM407 622h1v1h-1zM257 623h1v1h-1zM408 623h1v1h-1zM258 624h1v1h-1zM323 624h1v1h-1zM409 624h1v1h-1zM531 624h3v1h-3zM569 624h1v1h-1zM81 625h1v1h-1zM234 625h1v1h-1zM322 625h1v1h-1zM527 625h1v1h-1zM537 625h3v1h-3zM567 625h2v1h-2zM82 626h1v1h-1zM234 626h1v1h-1zM322 626h1v1h-1zM525 626h2v1h-2zM82 627h1v1h-1zM233 627h1v1h-1zM262 628h1v1h-1zM411 628h1v1h-1zM521 628h1v1h-1zM543 628h1v1h-1zM263 629h2v1h-2zM412 629h1v1h-1zM519 629h2v1h-2zM544 629h1v1h-1zM562 629h2v1h-2zM86 630h2v1h-2zM321 630h1v1h-1zM412 630h1v1h-1zM545 630h1v1h-1zM561 630h1v1h-1zM88 631h1v1h-1zM231 631h1v1h-1zM321 631h1v1h-1zM549 631h2v1h-2zM557 631h1v1h-1zM231 632h1v1h-1zM321 632h1v1h-1zM515 632h1v1h-1zM551 632h1v1h-1zM555 632h2v1h-2zM92 633h1v1h-1zM230 633h1v1h-1zM268 633h1v1h-1zM513 633h2v1h-2zM93 634h2v1h-2zM269 634h1v1h-1zM414 634h1v1h-1zM270 635h1v1h-1zM415 635h1v1h-1zM320 636h1v1h-1zM415 636h1v1h-1zM509 636h1v1h-1zM98 637h1v1h-1zM228 637h1v1h-1zM319 637h1v1h-1zM508 637h1v1h-1zM99 638h1v1h-1zM228 638h1v1h-1zM274 638h1v1h-1zM319 638h1v1h-1zM507 638h1v1h-1zM100 639h1v1h-1zM227 639h1v1h-1zM275 639h1v1h-1zM276 640h1v1h-1zM417 640h1v1h-1zM418 641h1v1h-1zM318 642h1v1h-1zM418 642h1v1h-1zM503 642h1v1h-1zM103 643h1v1h-1zM224 643h1v1h-1zM318 643h1v1h-1zM502 643h1v1h-1zM104 644h1v1h-1zM224 644h1v1h-1zM279 644h1v1h-1zM318 644h1v1h-1zM501 644h1v1h-1zM105 645h1v1h-1zM223 645h1v1h-1zM280 645h1v1h-1zM281 646h1v1h-1zM420 646h1v1h-1zM420 647h1v1h-1zM317 648h1v1h-1zM420 648h1v1h-1zM497 648h1v1h-1zM108 649h1v1h-1zM220 649h1v1h-1zM316 649h1v1h-1zM495 649h2v1h-2zM108 650h1v1h-1zM220 650h1v1h-1zM285 650h1v1h-1zM316 650h1v1h-1zM109 651h1v1h-1zM219 651h1v1h-1zM285 651h1v1h-1zM286 652h1v1h-1zM422 652h1v1h-1zM422 653h1v1h-1zM491 653h1v1h-1zM315 654h1v1h-1zM423 654h1v1h-1zM490 654h1v1h-1zM111 655h1v1h-1zM215 655h1v1h-1zM314 655h1v1h-1zM489 655h1v1h-1zM111 656h1v1h-1zM215 656h1v1h-1zM289 656h1v1h-1zM314 656h1v1h-1zM112 657h1v1h-1zM214 657h1v1h-1zM290 657h1v1h-1zM291 658h1v1h-1zM424 658h1v1h-1zM424 659h1v1h-1zM485 659h1v1h-1zM311 660h1v1h-1zM425 660h1v1h-1zM484 660h1v1h-1zM114 661h1v1h-1zM209 661h2v1h-2zM310 661h1v1h-1zM483 661h1v1h-1zM114 662h1v1h-1zM208 662h1v1h-1zM294 662h1v1h-1zM310 662h1v1h-1zM115 663h1v1h-1zM295 663h1v1h-1zM296 664h1v1h-1zM426 664h1v1h-1zM479 664h1v1h-1zM204 665h1v1h-1zM427 665h1v1h-1zM478 665h1v1h-1zM203 666h1v1h-1zM305 666h3v1h-3zM427 666h1v1h-1zM477 666h1v1h-1zM116 667h1v1h-1zM202 667h1v1h-1zM301 667h1v1h-1zM117 668h1v1h-1zM299 668h2v1h-2zM117 669h1v1h-1zM197 670h2v1h-2zM428 670h1v1h-1zM473 670h1v1h-1zM196 671h1v1h-1zM429 671h1v1h-1zM472 671h1v1h-1zM429 672h1v1h-1zM471 672h1v1h-1zM119 673h1v1h-1zM191 673h2v1h-2zM119 674h1v1h-1zM190 674h1v1h-1zM119 675h1v1h-1zM186 675h1v1h-1zM184 676h2v1h-2zM431 676h1v1h-1zM468 676h1v1h-1zM431 677h1v1h-1zM467 677h1v1h-1zM179 678h2v1h-2zM431 678h1v1h-1zM466 678h1v1h-1zM121 679h1v1h-1zM178 679h1v1h-1zM121 680h1v1h-1zM122 681h1v1h-1zM173 682h2v1h-2zM433 682h1v1h-1zM463 682h1v1h-1zM172 683h1v1h-1zM433 683h1v1h-1zM462 683h1v1h-1zM434 684h1v1h-1zM461 684h1v1h-1zM124 685h1v1h-1zM124 686h1v1h-1zM167 686h2v1h-2zM125 687h1v1h-1zM166 687h1v1h-1zM435 688h1v1h-1zM457 688h1v1h-1zM436 689h1v1h-1zM456 689h1v1h-1zM161 690h2v1h-2zM436 690h1v1h-1zM455 690h1v1h-1zM127 691h1v1h-1zM160 691h1v1h-1zM128 692h1v1h-1zM128 693h1v1h-1zM156 694h1v1h-1zM439 694h1v1h-1zM451 694h1v1h-1zM154 695h2v1h-2zM440 695h1v1h-1zM449 695h2v1h-2zM149 696h2v1h-2zM440 696h1v1h-1zM130 697h1v1h-1zM148 697h1v1h-1zM131 698h2v1h-2zM143 698h2v1h-2zM445 698h1v1h-1zM136 699h1v1h-1zM142 699h1v1h-1zM444 699h1v1h-1zM137 700h2v1h-2zM443 700h1v1h-1z" fill="#ff0000"/>
</g>
<g id="frames">
<rect x="2" y="2" width="667" height="1" fill="#000000"/>
<rect x="2" y="358" width="667" height="1" fill="#000000"/>
<rect x="2" y="2" width="1" height="357" fill="#000000"/>
<rect x="668" y="2" width="1" height="357" fill="#000000"/>
<rect x="2" y="360" width="667" height="1" fill="#000000"/>
<rect x="2" y="537" width="667" height="1" fill="#000000"/>
<rect x="2" y="360" width="1" height="178" fill="#000000"/>
<rect x="668" y="360" width="1" height="178" fill="#000000"/>
<rect x="2" y="539" width="667" height="1" fill="#000000"/>
<rect x="2" y="715" width="667" height="1" fill="#000000"/>
<rect x="2" y="539" width="1" height="177" fill="#000000"/>
<rect x="668" y="539" width="1" height="177" fill="#000000"/>
</g>
<g id="ticks">
<rect x="669" y="25" width="2" height="1" fill="#000000"/>
<rect x="669" y="58" width="2" height="1" fill="#000000"/>
<rect x="669" y="91" width="2" height="1" fill="#000000"/>
<rect x="669" y="124" width="2" height="1" fill="#000000"/>
<rect x="669" y="157" width="2" height="1" fill="#000000"/>
<rect x="669" y="190" width="2" height="1" fill="#000000"/>
<rect x="669" y="223" width="2" height="1" fill="#000000"/>
<rect x="669" y="256" width="2" height="1" fill="#000000"/>
<rect x="669" y="289" width="2" height="1" fill="#000000"/>
<rect x="669" y="322" width="2" height="1" fill="#000000"/>
<rect x="669" y="355" width="2" height="1" fill="#000000"/>
<rect x="669" y="362" width="2" height="1" fill="#000000"/>
<rect x="669" y="437" width="2" height="1" fill="#000000"/>
<rect x="669" y="536" width="2" height="1" fill="#000000"/>
<rect x="669" y="541" width="2" height="1" fill="#000000"/>
<rect x="669" y="575" width="2" height="1" fill="#000000"/>
<rect x="669" y="680" width="2" height="1" fill="#000000"/>
<rect x="669" y="715" width="2" height="1" fill="#000000"/>
<rect x="3" y="716" width="1" height="2" fill="#000000"/>
<rect x="67" y="716" width="1" height="2" fill="#000000"/>
<rect x="131" y="716" width="1" height="2" fill="#000000"/>
<rect x="195" y="716" width="1" height="2" fill="#000000"/>
<rect x="259" y="716" width="1" height="2" fill="#000000"/>
<rect x="323" y="716" width="1" height="2" fill="#000000"/>
<rect x="387" y="716" width="1" height="2" fill="#000000"/>
<rect x="451" y="716" width="1" height="2" fill="#000000"/>
<rect x="515" y="716" width="1" height="2" fill="#000000"/>
<rect x="579" y="716" width="1" height="2" fill="#000000"/>
</g>
<g font-family='"Liberation Sans", "DejaVu Sans", sans-serif' shape-rendering="auto">
<text x="674.3" y="61" fill="#000000" font-size="10" textLength="32.6" lengthAdjust="spacingAndGlyphs">1.13570</text>
<text x="674.3" y="94" fill="#000000" font-size="10" textLength="32.6" lengthAdjust="spacingAndGlyphs">1.13110</text>
<text x="674.3" y="127" fill="#000000" font-size="10" textLength="32.6" lengthAdjust="spacingAndGlyphs">1.12650</text>
<text x="674.3" y="160" fill="#000000" font-size="10" textLength="32.6" lengthAdjust="spacingAndGlyphs">1.12190</text>
<text x="674.3" y="193" fill="#000000" font-size="10" textLength="32.6" lengthAdjust="spacingAndGlyphs">1.11740</text>
<text x="674.3" y="226" fill="#000000" font-size="10" textLength="32.6" lengthAdjust="spacingAndGlyphs">1.11280</text>
<text x="674.3" y="259" fill="#000000" font-size="10" textLength="32.6" lengthAdjust="spacingAndGlyphs">1.10820</text>
<text x="674.3" y="292" fill="#000000" font-size="10" textLength="32.6" lengthAdjust="spacingAndGlyphs">1.10360</text>
<text x="674.3" y="325" fill="#000000" font-size="10" textLength="32.6" lengthAdjust="spacingAndGlyphs">1.09900</text>
<text x="674.3" y="358" fill="#000000" font-size="10" textLength="32.6" lengthAdjust="spacingAndGlyphs">1.09440</text>
<rect x="670" y="21" width="41" height="11" fill="#008080"/>
<text x="674.3" y="30" fill="#ffffff" font-size="10" textLength="32.6" lengthAdjust="spacingAndGlyphs">1.14000</text>
<rect x="670" y="48" width="41" height="11" fill="#90ee90"/>
<text x="674.3" y="57" fill="#ffffff" font-size="10" textLength="32.6" lengthAdjust="spacingAndGlyphs">1.13625</text>
<rect x="670" y="68" width="41" height="11" fill="#90ee90"/>
<text x="674.3" y="77" fill="#ffffff" font-size="10" textLength="32.6" lengthAdjust="spacingAndGlyphs">1.13350</text>
<rect x="670" y="97" width="41" height="11" fill="#90ee90"/>
<text x="674.3" y="106" fill="#ffffff" font-size="10" textLength="32.6" lengthAdjust="spacingAndGlyphs">1.12950</text>
<rect x="670" y="109" width="41" height="11" fill="#90ee90"/>
<text x="674.3" y="118" fill="#ffffff" font-size="10" textLength="32.6" lengthAdjust="spacingAndGlyphs">1.12775</text>
<rect x="670" y="140" width="41" height="11" fill="#90ee90"/>
<text x="674.3" y="149" fill="#ffffff" font-size="10" textLength="32.6" lengthAdjust="spacingAndGlyphs">1.12350</text>
<rect x="670" y="153" width="41" height="11" fill="#90ee90"/>
<text x="674.3" y="162" fill="#ffffff" font-size="10" textLength="32.6" lengthAdjust="spacingAndGlyphs">1.12175</text>
<rect x="670" y="201" width="41" height="11" fill="#90ee90"/>
<text x="674.3" y="210" fill="#ffffff" font-size="10" textLength="32.6" lengthAdjust="spacingAndGlyphs">1.11500</text>
<rect x="670" y="230" width="41" height="11" fill="#90ee90"/>
<text x="674.3" y="239" fill="#ffffff" font-size="10" textLength="32.6" lengthAdjust="spacingAndGlyphs">1.11100</text>
<rect x="670" y="255" width="41" height="11" fill="#90ee90"/>
<text x="674.3" y="264" fill="#ffffff" font-size="10" textLength="32.6" lengthAdjust="spacingAndGlyphs">1.10750</text>
<rect x="670" y="277" width="41" height="11" fill="#90ee90"/>
<text x="674.3" y="286" fill="#ffffff" font-size="10" textLength="32.6" lengthAdjust="spacingAndGlyphs">1.10450</text>
<rect x="670" y="288" width="41" height="11" fill="#000000"/>
<text x="674.3" y="297" fill="#ffffff" font-size="10" textLength="32.6" lengthAdjust="spacingAndGlyphs">1.10288</text>
<rect x="670" y="305" width="41" height="11" fill="#90ee90"/>
<text x="674.3" y="314" fill="#ffffff" font-size="10" textLength="32.6" lengthAdjust="spacingAndGlyphs">1.10050</text>
<rect x="670" y="320" width="41" height="11" fill="#008080"/>
<text x="674.3" y="329" fill="#ffffff" font-size="10" textLength="32.6" lengthAdjust="spacingAndGlyphs">1.09850</text>
<rect x="670" y="343" width="41" height="11" fill="#90ee90"/>
<text x="674.3" y="352" fill="#ffffff" font-size="10" textLength="32.6" lengthAdjust="spacingAndGlyphs">1.09525</text>
<text x="671.7" y="371" fill="#000000" font-size="10" textLength="37.5" lengthAdjust="spacingAndGlyphs">0.003907</text>
<text x="671.6" y="440" fill="#000000" font-size="10" textLength="18.4" lengthAdjust="spacingAndGlyphs">0.00</text>
<text x="671.5" y="534" fill="#000000" font-size="10" textLength="42" lengthAdjust="spacingAndGlyphs">-0.005105</text>
<text x="672.1" y="551" fill="#000000" font-size="10" textLength="15.1" lengthAdjust="spacingAndGlyphs">100</text>
<text x="670.6" y="578" fill="#000000" font-size="10" textLength="10.6" lengthAdjust="spacingAndGlyphs">80</text>
<text x="670.6" y="683" fill="#000000" font-size="10" textLength="10.6" lengthAdjust="spacingAndGlyphs">20</text>
<text x="671.6" y="712" fill="#000000" font-size="10" textLength="5.6" lengthAdjust="spacingAndGlyphs">0</text>
<text x="2.6" y="728" fill="#000000" font-size="10" textLength="49.5" lengthAdjust="spacingAndGlyphs">19 Jun 2015</text>
<text x="66.4" y="728" fill="#000000" font-size="10" textLength="53.6" lengthAdjust="spacingAndGlyphs">22 Jun 08:00</text>
<text x="129.8" y="728" fill="#000000" font-size="10" textLength="53.6" lengthAdjust="spacingAndGlyphs">23 Jun 16:00</text>
<text x="194.0" y="728" fill="#000000" font-size="10" textLength="53.6" lengthAdjust="spacingAndGlyphs">25 Jun 00:00</text>
<text x="257.5" y="728" fill="#000000" font-size="10" textLength="53.6" lengthAdjust="spacingAndGlyphs">26 Jun 08:00</text>
<text x="321.6" y="728" fill="#000000" font-size="10" textLength="53.6" lengthAdjust="spacingAndGlyphs">29 Jun 16:00</text>
<text x="386.2" y="728" fill="#000000" font-size="10" textLength="45.6" lengthAdjust="spacingAndGlyphs">1 Jul 00:00</text>
<text x="450.2" y="728" fill="#000000" font-size="10" textLength="45.6" lengthAdjust="spacingAndGlyphs">2 Jul 08:00</text>
<text x="514.1" y="728" fill="#000000" font-size="10" textLength="45.6" lengthAdjust="spacingAndGlyphs">3 Jul 16:00</text>
<text x="578.1" y="728" fill="#000000" font-size="10" textLength="45.6" lengthAdjust="spacingAndGlyphs">7 Jul 00:00</text>
<text x="17.8" y="14" fill="#000000" font-size="10" textLength="55" lengthAdjust="spacingAndGlyphs">EURUSD,H4</text>
<text x="78.1" y="14" fill="#000000" font-size="10" textLength="32.6" lengthAdjust="spacingAndGlyphs">1.10468</text>
<text x="114.4" y="14" fill="#000000" font-size="10" textLength="32.6" lengthAdjust="spacingAndGlyphs">1.10491</text>
<text x="150.4" y="14" fill="#000000" font-size="10" textLength="32.6" lengthAdjust="spacingAndGlyphs">1.10250</text>
<text x="186.2" y="14" fill="#000000" font-size="10" textLength="32.6" lengthAdjust="spacingAndGlyphs">1.10288</text>
<text x="6.8" y="373" fill="#000000" font-size="10" textLength="66.8" lengthAdjust="spacingAndGlyphs">MACD(12,26,9)</text>
<text x="75.6" y="373" fill="#000000" font-size="10" textLength="42.2" lengthAdjust="spacingAndGlyphs">-0.002362</text>
<text x="119.2" y="373" fill="#000000" font-size="10" textLength="41.7" lengthAdjust="spacingAndGlyphs">-0.002325</text>
<text x="6.8" y="553" fill="#000000" font-size="10" textLength="56.5" lengthAdjust="spacingAndGlyphs">Stoch(13,3,3)</text>
<text x="65.4" y="553" fill="#000000" font-size="10" textLength="32.6" lengthAdjust="spacingAndGlyphs">50.4826</text>
<text x="101.3" y="553" fill="#000000" font-size="10" textLength="32.6" lengthAdjust="spacingAndGlyphs">55.9433</text>
</g>
<polygon points="6,9 13,9 9.5,13" fill="#000000" shape-rendering="auto"/>
</svg>
</body></html>
